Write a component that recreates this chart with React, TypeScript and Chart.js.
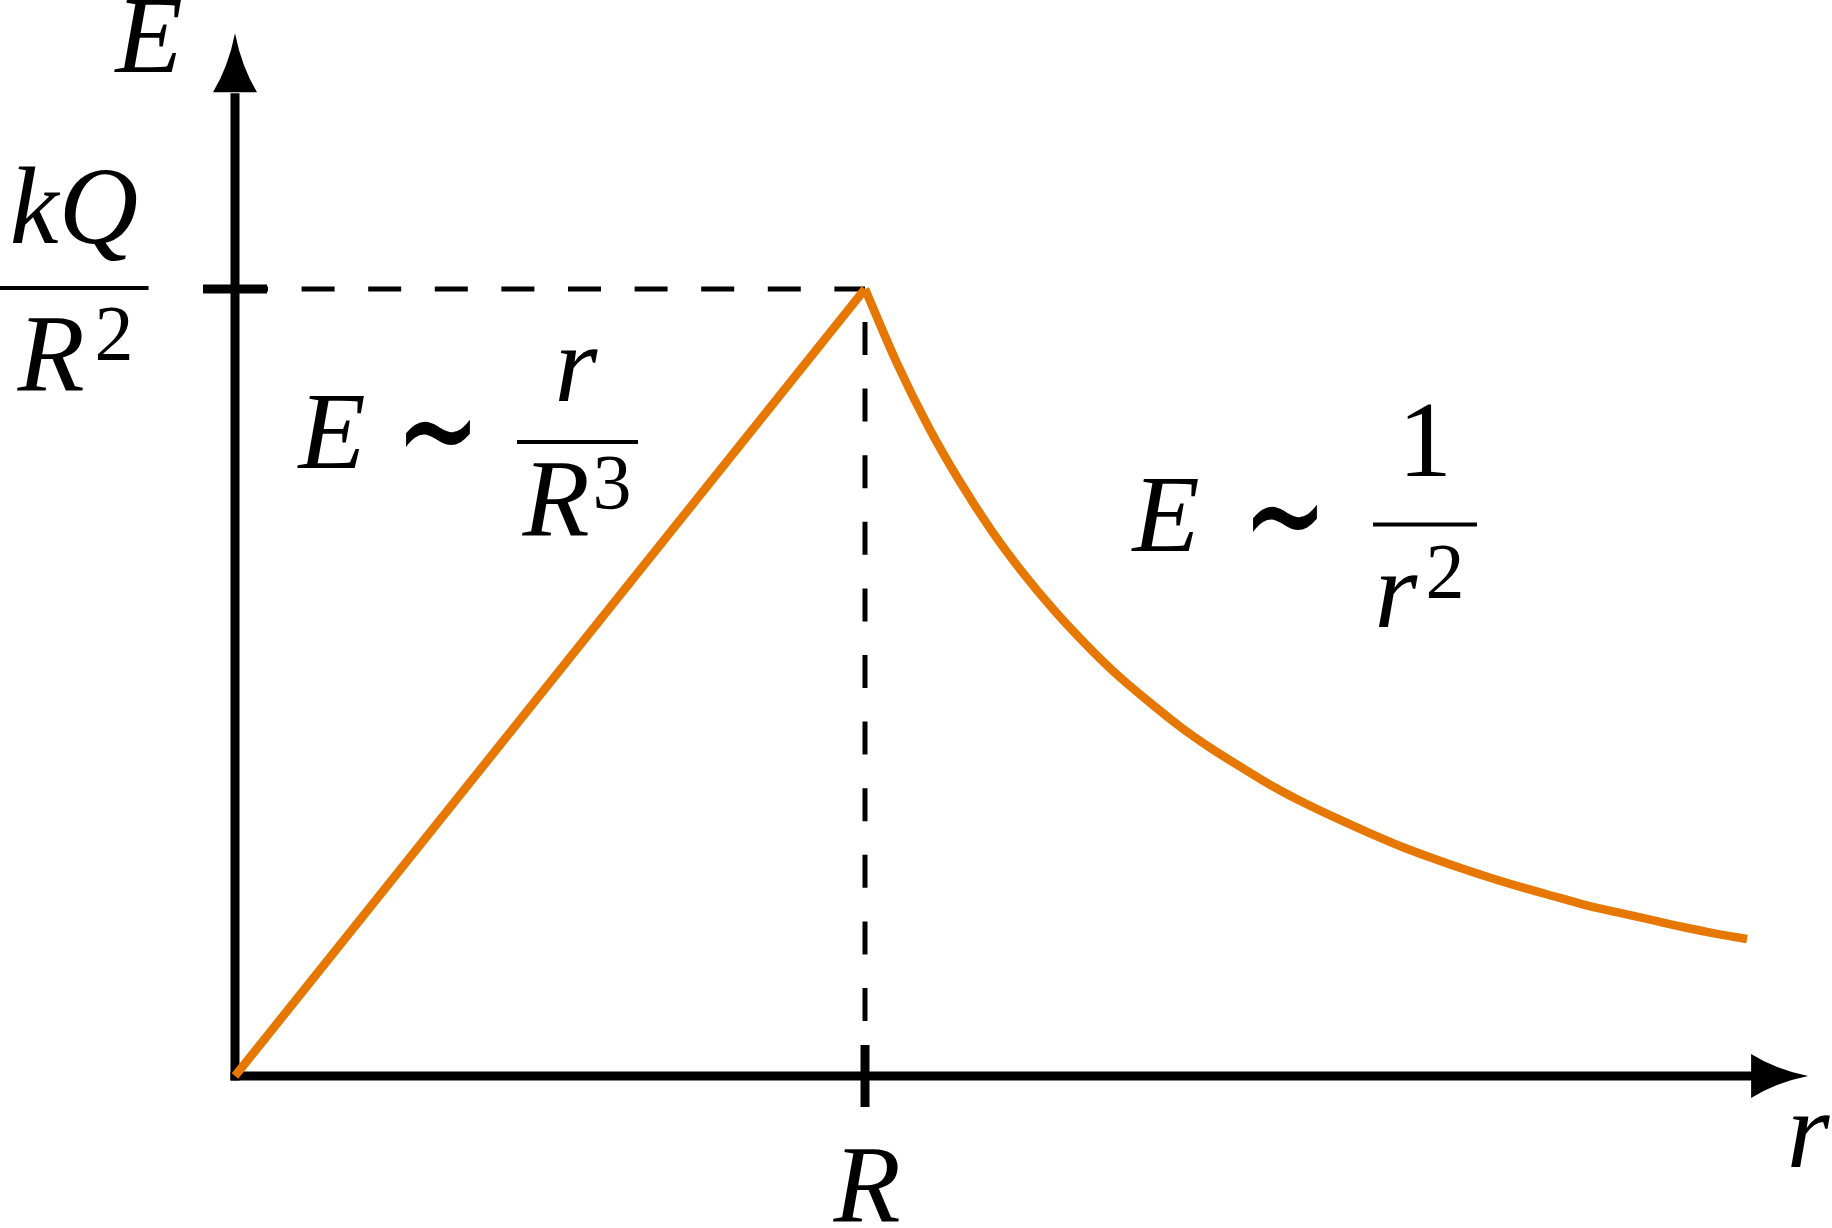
import { useEffect, useRef } from 'react';
import { Chart, registerables } from 'chart.js';

Chart.register(...registerables);

// ---- data (r in units of R, E in units of kQ/R^2) ----
// inside the sphere: straight rise
const insideRadius = [0, 1];
const insideField = [0, 1];
// outside the sphere: decaying curve
const outsideRadius = [1, 1.05, 1.1, 1.15, 1.2, 1.25, 1.3, 1.35, 1.4, 1.45, 1.5, 1.55, 1.6, 1.65, 1.7, 1.75, 1.8, 1.85, 1.9, 1.95, 2.0, 2.05, 2.1, 2.15, 2.2, 2.25, 2.3, 2.35, 2.4];
const outsideField = [1, 0.907, 0.826, 0.756, 0.694, 0.64, 0.592, 0.549, 0.51, 0.476, 0.444, 0.416, 0.391, 0.367, 0.346, 0.327, 0.309, 0.292, 0.277, 0.263, 0.25, 0.238, 0.227, 0.216, 0.207, 0.198, 0.189, 0.181, 0.174];

const peakRadius = [1];
const peakField = [1];
const xAxisLabel = 'r';
const yAxisLabel = 'E';
const xTickLabel = 'R';
const yTickNumerator = 'kQ';
const yTickDenominator = 'R';
const yTickExponent = '2';
const insideLabel = ['E', '∼', 'r', 'R', '3'];
const outsideLabel = ['E', '∼', '1', 'r', '2'];

const W = 1832;
const H = 1228;
const ORANGE = '#e67700';
const italic = (s: number) => `italic ${s}px "Liberation Serif", "DejaVu Serif", serif`;
const upright = (s: number) => `${s}px "Liberation Serif", "DejaVu Serif", serif`;

function text(ctx: CanvasRenderingContext2D, s: string, x: number, y: number, font: string) {
  ctx.font = font;
  ctx.textAlign = 'center';
  ctx.textBaseline = 'alphabetic';
  ctx.fillStyle = '#000';
  ctx.fillText(s, x, y);
}

// tilde drawn as text, stretched vertically to resemble the TeX glyph
function tilde(ctx: CanvasRenderingContext2D, s: string, cx: number, cy: number) {
  ctx.save();
  ctx.translate(cx, cy);
  ctx.scale(1.0, 1.55);
  ctx.font = '102px "DejaVu Sans", sans-serif';
  ctx.textAlign = 'center';
  ctx.textBaseline = 'middle';
  ctx.fillStyle = '#000';
  ctx.fillText(s, 0, 0);
  ctx.restore();
}

function bar(ctx: CanvasRenderingContext2D, x1: number, x2: number, y: number) {
  ctx.fillStyle = '#000';
  ctx.fillRect(x1, y - 2, x2 - x1, 4);
}

const diagramPlugin = {
  id: 'diagram',
  beforeDatasetsDraw(chart: any) {
    const { ctx, scales } = chart;
    const xs = scales.x;
    const ys = scales.y;
    const x0 = xs.getPixelForValue(0);
    const y0 = ys.getPixelForValue(0);
    const xp = xs.getPixelForValue(peakRadius[0]);
    const yp = ys.getPixelForValue(peakField[0]);
    ctx.save();
    ctx.strokeStyle = '#000';
    ctx.lineCap = 'butt';

    // dashed guides
    ctx.lineWidth = 5;
    ctx.setLineDash([33, 33.6]);
    ctx.lineDashOffset = 0;
    ctx.beginPath();
    ctx.moveTo(x0, yp);
    ctx.lineTo(xp, yp);
    ctx.stroke();
    ctx.lineDashOffset = 33.6;
    ctx.beginPath();
    ctx.moveTo(xp, yp);
    ctx.lineTo(xp, y0);
    ctx.stroke();
    ctx.setLineDash([]);

    // axes
    const yTip = ys.getPixelForValue(1.325);
    const yBase = yTip + 59;
    const xTip = xs.getPixelForValue(2.497);
    const xBase = xTip - 57;
    ctx.lineWidth = 9;
    ctx.beginPath();
    ctx.moveTo(x0, y0 + 4.5);
    ctx.lineTo(x0, yBase + 1);
    ctx.stroke();
    ctx.beginPath();
    ctx.moveTo(x0 - 4.5, y0);
    ctx.lineTo(xBase + 1, y0);
    ctx.stroke();

    // arrowheads
    ctx.fillStyle = '#000';
    const hw = 22;
    ctx.beginPath();
    ctx.moveTo(x0, yTip);
    ctx.quadraticCurveTo(x0 - hw * 0.3, (yTip + yBase) / 2 + 4, x0 - hw, yBase);
    ctx.lineTo(x0 + hw, yBase);
    ctx.quadraticCurveTo(x0 + hw * 0.3, (yTip + yBase) / 2 + 4, x0, yTip);
    ctx.closePath();
    ctx.fill();
    ctx.beginPath();
    ctx.moveTo(xTip, y0);
    ctx.quadraticCurveTo((xTip + xBase) / 2 - 4, y0 - hw * 0.3, xBase, y0 - hw);
    ctx.lineTo(xBase, y0 + hw);
    ctx.quadraticCurveTo((xTip + xBase) / 2 - 4, y0 + hw * 0.3, xTip, y0);
    ctx.closePath();
    ctx.fill();

    // ticks
    ctx.lineWidth = 9;
    ctx.beginPath();
    ctx.moveTo(x0 - 32, yp);
    ctx.lineTo(x0 + 32, yp);
    ctx.stroke();
    ctx.beginPath();
    ctx.moveTo(xp, y0 - 31);
    ctx.lineTo(xp, y0 + 31);
    ctx.stroke();
    ctx.restore();
  },
  afterDatasetsDraw(chart: any) {
    const { ctx, scales } = chart;
    const xs = scales.x;
    const ys = scales.y;
    const x0 = xs.getPixelForValue(0);
    const y0 = ys.getPixelForValue(0);
    const xp = xs.getPixelForValue(peakRadius[0]);
    const yp = ys.getPixelForValue(peakField[0]);
    ctx.save();
    const big = 110;
    const sup = 78;

    // axis labels
    text(ctx, yAxisLabel, x0 - 86, 72, italic(big));
    text(ctx, xAxisLabel, xs.getPixelForValue(2.497), y0 + 91, italic(big));
    text(ctx, xTickLabel, xp + 2, y0 + 146, italic(big));

    // kQ / R^2 tick label
    const fx = x0 - 161;
    bar(ctx, fx - 74.5, fx + 74.5, yp - 1);
    text(ctx, yTickNumerator, fx, yp - 46, italic(big));
    text(ctx, yTickDenominator, fx - 23, yp + 102, italic(big));
    text(ctx, yTickExponent, fx + 40, yp + 70, upright(sup));

    // E ~ r / R^3
    text(ctx, insideLabel[0], 332, 468, italic(big));
    tilde(ctx, insideLabel[1], 438, 442);
    bar(ctx, 517, 638, 442);
    text(ctx, insideLabel[2], 576, 401, italic(big));
    text(ctx, insideLabel[3], 556, 536, italic(big));
    text(ctx, insideLabel[4], 612, 508, upright(sup));

    // E ~ 1 / r^2
    text(ctx, outsideLabel[0], 1166, 551, italic(big));
    tilde(ctx, outsideLabel[1], 1285, 527);
    bar(ctx, 1373, 1477, 524.5);
    text(ctx, outsideLabel[2], 1425, 476, upright(108));
    text(ctx, outsideLabel[3], 1396, 627, italic(big));
    text(ctx, outsideLabel[4], 1445, 597, upright(sup));
    ctx.restore();
  },
};

export default function App() {
  const ref = useRef<HTMLCanvasElement | null>(null);
  useEffect(() => {
    if (!ref.current) return;
    const common = {
      borderColor: ORANGE,
      borderWidth: 8.5,
      pointRadius: 0,
      borderCapStyle: 'butt',
      borderJoinStyle: 'miter',
      fill: false,
      clip: false,
    };
    const chart = new Chart(ref.current, {
      type: 'line',
      data: {
        datasets: [
          {
            ...common,
            data: insideRadius.map((r, i) => ({ x: r, y: insideField[i] })),
            tension: 0,
          } as any,
          {
            ...common,
            data: outsideRadius.map((r, i) => ({ x: r, y: outsideField[i] })),
            cubicInterpolationMode: 'monotone',
          } as any,
        ],
      },
      options: {
        responsive: false,
        animation: false,
        devicePixelRatio: 1,
        events: [],
        layout: { padding: { left: 235, right: 22, top: 52.9, bottom: 152 } },
        scales: {
          x: { type: 'linear', min: 0, max: 2.5, display: false },
          y: { type: 'linear', min: 0, max: 1.3, display: false },
        },
        plugins: { legend: { display: false }, tooltip: { enabled: false } },
      },
      plugins: [diagramPlugin],
    });
    return () => chart.destroy();
  }, []);
  return (
    <div style={{ position: 'absolute', left: 0, top: 0, width: W, height: H, background: '#fff' }}>
      <canvas ref={ref} width={W} height={H} style={{ display: 'block', width: W, height: H }} />
    </div>
  );
}
